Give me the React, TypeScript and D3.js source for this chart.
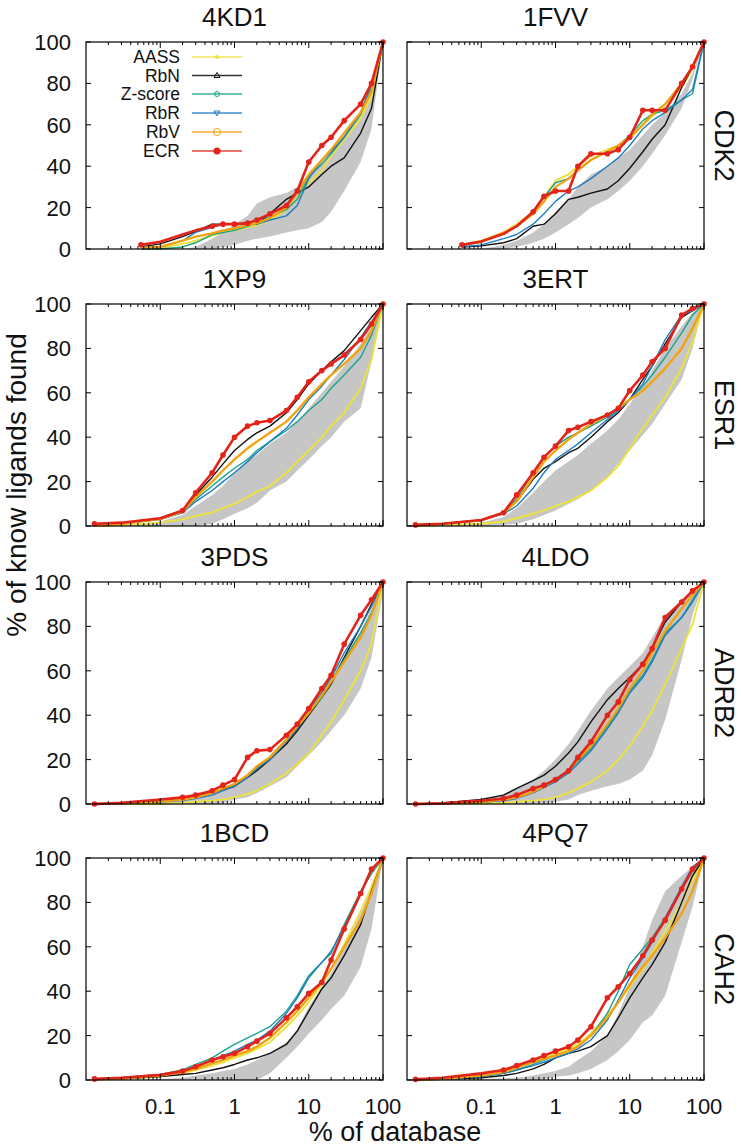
import React, { useEffect } from "react";
import * as d3 from "d3";

const W = 741;
const H = 1148;

const methods = ["AASS", "RbN", "Z-score", "RbR", "RbV", "ECR"];
const methodColors = ["#ebe23c", "#111111", "#1aa38e", "#1f7cc0", "#f2a20c", "#e3241b"];
const methodWidths = [1.9, 1.4, 1.4, 1.4, 2.3, 2.6];
const targets = ["CDK2", "ESR1", "ADRB2", "CAH2"];
const structures = [["4KD1", "1FVV"], ["1XP9", "3ERT"], ["3PDS", "4LDO"], ["1BCD", "4PQ7"]];
const xTicks = [0.1, 1, 10, 100];
const xTickLabels = ["0.1", "1", "10", "100"];
const yTicks = [0, 20, 40, 60, 80, 100];

// % of database sample positions
const xCDK2 = [0.055, 0.1, 0.2, 0.3, 0.5, 0.7, 1, 1.5, 2, 3, 5, 7, 10, 15, 20, 30, 50, 70, 100];
const xOther = [0.013, 0.03, 0.1, 0.2, 0.3, 0.5, 0.7, 1, 1.5, 2, 3, 5, 7, 10, 15, 20, 30, 50, 70, 100];

// series order: AASS, RbN, Z-score, RbR, RbV, ECR
const s4KD1 = [
  [0, 0.5, 2.5, 4, 6.5, 8, 9, 10.5, 11.5, 14, 19, 24, 32, 38, 45, 53, 63, 74, 100],
  [1, 2.5, 6, 8.5, 12, 12, 12, 12, 12, 17, 24, 27, 30, 36, 40, 44, 56, 68, 100],
  [0, 0, 1, 3, 7, 8, 9, 11, 12.5, 15.5, 19, 24, 35, 41, 46, 54, 65, 78, 100],
  [1, 1, 4, 8, 10.5, 12, 12, 12, 12, 14, 16, 21, 34, 43, 47, 54, 66, 80, 100],
  [0.5, 1, 4, 6, 7.5, 9, 10, 11.5, 12.5, 15, 20, 27, 36, 43, 48, 56, 66, 76, 100],
  [2, 3.5, 7, 9, 11, 12, 12, 12.5, 14, 17, 21, 28, 42, 50, 54, 62, 70, 80, 100],
];
const hi4KD1 = [0, 0, 0, 1, 5, 8, 12, 16, 22, 25, 27, 30, 36, 43, 48, 55, 66, 78, 100];
const lo4KD1 = [0, 0, 0, 0, 0, 1, 2, 4, 5, 6, 8, 9, 10, 13, 18, 28, 42, 58, 100];

const s1FVV = [
  [2, 4, 8, 12, 18, 25, 33, 36, 40, 45, 48, 50, 53, 60, 64, 70, 78, 87, 100],
  [1, 1.5, 3, 5, 11, 12, 17, 24, 25, 27, 29, 33, 39, 47, 53, 60, 78, 88, 100],
  [1.5, 3.5, 8, 11, 18, 25, 32, 34, 38, 43, 47, 50, 55, 62, 65, 67, 72, 75, 100],
  [1, 2, 5, 7, 12, 17, 23, 28, 30, 34, 40, 44, 50, 58, 62, 66, 72, 77, 100],
  [2, 3.5, 8, 11, 17, 23, 30, 34, 38, 43, 47, 50, 54, 60, 65, 70, 80, 88, 100],
  [2, 3.6, 7.3, 11, 18, 25.5, 28, 28, 40, 46, 46, 48, 54, 67, 67, 67, 80, 88, 100],
];
const hi1FVV = [0, 0, 2, 4, 8, 12, 18, 24, 30, 36, 40, 44, 48, 55, 60, 66, 75, 85, 100];
const lo1FVV = [0, 0, 0, 1, 3, 5, 8, 12, 15, 20, 24, 28, 33, 40, 46, 55, 68, 82, 100];

const s1XP9 = [
  [0, 0.2, 1.5, 3, 4.5, 6, 8, 10, 13, 15.5, 18, 24, 29, 34, 40, 45, 51, 62, 75, 100],
  [0.5, 1.2, 3.5, 7, 14, 22, 28, 34, 39, 42, 45, 51, 57, 64, 70, 74, 79, 88, 94, 100],
  [0.3, 1, 3, 6, 12, 18, 22, 26, 30, 34, 38, 43, 47, 52, 57, 62, 68, 76, 86, 100],
  [0.3, 1, 3, 6, 11, 16, 20, 24, 29, 33, 38, 44, 50, 57, 63, 68, 75, 85, 92, 100],
  [0.3, 1, 3.2, 6.5, 13, 20, 25, 30, 35, 38, 42, 47, 52, 58, 64, 68, 73, 80, 88, 100],
  [1, 1.5, 3.5, 7, 15, 24, 32, 40, 45, 46.5, 47.5, 52, 58, 65, 70, 73, 77, 84, 91, 100],
];
const hi1XP9 = [0, 0.5, 2, 5, 9, 14, 18, 24, 29, 32, 37, 42, 47, 53, 60, 65, 72, 82, 90, 100];
const lo1XP9 = [0, 0, 0, 0, 0, 1, 3, 5.5, 8, 10.5, 16, 20, 25, 30, 36, 40, 47, 53, 74, 100];

const s3ERT = [
  [0, 0.3, 1, 2, 3.5, 5.5, 7, 9, 11, 13, 16, 22, 27, 35, 44, 50, 58, 71, 83, 100],
  [0.5, 1, 2.5, 6, 11, 21, 26, 29, 33, 35, 40, 47, 51, 57, 66, 72, 82, 94, 97, 100],
  [0.5, 1, 2.7, 6, 12, 24, 31, 36, 40, 42, 45, 49, 52, 57, 63, 68, 76, 87, 95, 100],
  [0.5, 1, 2.5, 5.5, 9, 17, 24, 30, 34, 37, 42, 48, 52, 57, 64, 72, 84, 95, 97, 100],
  [0.5, 1, 2.5, 6, 11, 22, 29, 34, 39, 42, 46, 50, 53, 57, 61, 65, 71, 80, 89, 100],
  [0.5, 1, 2.7, 6, 14, 24, 31, 36, 43, 44.5, 47, 50, 53, 61, 68, 74, 80, 95, 98, 100],
];
const hi3ERT = [0, 0.3, 1.5, 4, 8, 15, 20, 25, 29, 32, 37, 43, 48, 55, 63, 70, 80, 90, 96, 100];
const lo3ERT = [0, 0, 0, 0.5, 1, 3, 5, 7, 10, 12, 16, 22, 28, 34, 41, 46, 55, 66, 80, 100];

const s3PDS = [
  [0, 0, 0, 0.5, 1, 1.5, 2, 3, 4.5, 6, 9, 14, 18, 23, 31, 37, 47, 60, 72, 100],
  [0, 0.5, 1.5, 2.5, 3.5, 5, 6.5, 8, 12, 15, 20, 27, 33, 40, 48, 54, 66, 80, 90, 100],
  [0, 0.2, 1, 2, 3, 5, 7, 9, 13, 16, 21, 29, 34, 41, 48, 55, 65, 77, 86, 100],
  [0, 0.2, 1, 1.5, 2.5, 4, 6, 8, 12, 16, 20, 28, 34, 42, 50, 57, 68, 80, 89, 100],
  [0, 0.3, 1.2, 2, 3, 5, 7, 9, 13, 17, 21, 29, 35, 41, 49, 55, 64, 75, 85, 100],
  [0, 0.5, 2, 3, 4, 6, 8.5, 11, 21, 24, 24.5, 31, 36, 43, 52, 58, 72, 85, 92, 100],
];
const hi3PDS = [0, 0, 1, 2, 3, 5, 7, 9, 12, 16, 22, 30, 36, 44, 52, 58, 66, 78, 88, 100];
const lo3PDS = [0, 0, 0, 0, 0, 0, 0.5, 2, 3, 5, 8, 12, 17, 22, 28, 33, 40, 52, 66, 96];

const s4LDO = [
  [0, 0, 0.2, 0.5, 1, 1.5, 2, 3, 5, 7, 10, 15, 20, 26, 35, 42, 54, 70, 81, 100],
  [0, 0.5, 2, 4, 7, 10.5, 13, 17, 23, 28, 37, 47, 52, 57, 63, 70, 82, 91, 96, 100],
  [0, 0.2, 0.8, 1.5, 3, 5.5, 8, 11, 15, 19, 25, 35, 42, 51, 58, 65, 77, 84, 92, 100],
  [0, 0.2, 0.8, 1.5, 2.5, 5, 7.5, 10, 14, 18, 24, 34, 41, 50, 57, 64, 76, 84, 91, 100],
  [0, 0.2, 1, 2, 3, 5.5, 8, 11, 15, 20, 26, 36, 43, 52, 60, 68, 78, 88, 94, 100],
  [0, 0.3, 1.5, 2.5, 4, 7, 8.5, 11, 15, 21, 28, 40, 46, 56, 63, 70, 84, 91, 96, 100],
];
const hi4LDO = [0, 0.5, 2, 4.5, 7, 11, 15, 20, 27, 33, 42, 52, 57, 62, 68, 75, 85, 92, 96, 100];
const lo4LDO = [0, 0, 0, 0, 0, 0, 0.5, 1, 2, 4, 6, 8, 9, 11, 15, 22, 38, 65, 85, 100];

const s1BCD = [
  [0.3, 0.5, 1.5, 3, 4.5, 6.5, 8, 10, 12, 14, 17, 24, 29, 35, 43, 50, 61, 76, 87, 100],
  [0.3, 0.5, 1.5, 2.5, 3, 4.5, 5.5, 7, 9, 10, 12, 16, 22, 31, 41, 46, 56, 70, 85, 100],
  [0.5, 1, 2.5, 4.5, 7, 10, 13, 16, 19, 21, 24, 31, 38, 47, 53, 57, 70, 85, 93, 100],
  [0.5, 1, 2.3, 4, 6, 9, 11, 13, 16, 18, 22, 30, 37, 46, 53, 58, 69, 84, 95, 100],
  [0.3, 0.6, 2, 3.5, 5, 7.5, 9, 11, 13, 15, 19, 26, 31, 37, 44, 50, 60, 72, 84, 100],
  [0.5, 1, 2.3, 4, 6, 9, 10.5, 12, 15, 17.5, 21, 28, 33, 39, 44, 54, 68, 84, 95, 100],
];
const hi1BCD = [0, 0, 0.5, 1, 2, 3, 4, 5, 7, 9, 12, 17, 23, 33, 42, 48, 60, 75, 88, 100];
const lo1BCD = [0, 0, 0, 0, 0, 0, 0, 0, 0, 0, 3, 10, 15, 21, 27, 32, 38, 51, 68, 100];

const s4PQ7 = [
  [0, 0.5, 2, 4, 6, 8, 10, 12, 14, 16, 21, 29, 35, 42, 50, 57, 67, 80, 90, 100],
  [0, 0.3, 1, 2, 3, 5, 7, 10, 12, 13, 15, 20, 28, 37, 46, 52, 62, 80, 92, 100],
  [0, 0.5, 1.5, 3, 4.5, 7, 9, 11, 13, 15, 20, 30, 40, 52, 59, 64, 73, 86, 94, 100],
  [0, 0.5, 1.5, 3, 4.5, 6.5, 8, 10, 12, 14, 18, 27, 36, 46, 55, 62, 73, 87, 96, 100],
  [0, 0.5, 2, 3.5, 5.5, 8, 9.5, 11, 13, 15, 20, 28, 35, 43, 51, 56, 64, 75, 85, 100],
  [0.3, 1, 3, 4.5, 6.5, 9, 11, 13, 15, 18, 24, 37, 42, 48, 56, 63, 72, 86, 95, 100],
];
const hi4PQ7 = [0, 0, 0.5, 0.8, 1, 2, 3, 4, 6, 9, 13, 20, 30, 42, 60, 72, 85, 92, 96, 100];
const lo4PQ7 = [0, 0, 0, 0, 0, 0, 0.5, 1.5, 2, 3, 5, 9, 13, 18, 26, 29, 38, 62, 78, 100];

const panelSeries = [
  [s4KD1, s1FVV],
  [s1XP9, s3ERT],
  [s3PDS, s4LDO],
  [s1BCD, s4PQ7],
];
const panelHi = [[hi4KD1, hi1FVV], [hi1XP9, hi3ERT], [hi3PDS, hi4LDO], [hi1BCD, hi4PQ7]];
const panelLo = [[lo4KD1, lo1FVV], [lo1XP9, lo3ERT], [lo3PDS, lo4LDO], [lo1BCD, lo4PQ7]];

// layout
const colX = [86, 407];
const panelW = 297;
const rowY = [42, 304, 582, 858];
const rowH = [207, 222, 222, 222];
const FONT = "'Liberation Sans', Arial, Helvetica, sans-serif";

function Marker({ i, x, y, color }: { i: number; x: number; y: number; color: string }) {
  if (i === 0) return <circle cx={x} cy={y} r={2} fill={color} />;
  if (i === 1)
    return <path d={`M${x},${y - 3}L${x + 3},${y + 2}L${x - 3},${y + 2}Z`} fill="none" stroke={color} strokeWidth={1} />;
  if (i === 2) return <circle cx={x} cy={y} r={2.5} fill="none" stroke={color} strokeWidth={1} />;
  if (i === 3)
    return <path d={`M${x},${y + 3}L${x + 3},${y - 2}L${x - 3},${y - 2}Z`} fill="none" stroke={color} strokeWidth={1} />;
  if (i === 4) return <circle cx={x} cy={y} r={3.5} fill="none" stroke={color} strokeWidth={1} />;
  return <circle cx={x} cy={y} r={3.5} fill={color} />;
}

function Panel({ row, col }: { row: number; col: number }) {
  const x0 = colX[col];
  const y0 = rowY[row];
  const h = rowH[row];
  const xs = row === 0 ? xCDK2 : xOther;
  const series = panelSeries[row][col];
  const hi = panelHi[row][col];
  const lo = panelLo[row][col];
  const xScale = d3.scaleLog().domain([0.01, 100]).range([0, panelW]);
  const yScale = d3.scaleLinear().domain([0, 100]).range([h, 0]);
  const dotFrom = row === 0 ? 0.5 : 0.2;

  const area = d3
    .area<number>()
    .x((_, i) => xScale(xs[i]))
    .y0((_, i) => yScale(lo[i]))
    .y1((d) => yScale(d));
  const line = d3
    .line<number>()
    .x((_, i) => xScale(xs[i]))
    .y((d) => yScale(d));

  const minor: number[] = [];
  [0.01, 0.1, 1, 10].forEach((d) => {
    for (let k = 2; k <= 9; k++) minor.push(d * k);
  });

  return (
    <g transform={`translate(${x0},${y0})`}>
      <path d={area(hi) || ""} fill="#c6c6c6" stroke="none" />
      {series.map((vals, i) => (
        <path
          key={i}
          d={line(vals) || ""}
          fill="none"
          stroke={methodColors[i]}
          strokeWidth={methodWidths[i]}
          strokeLinejoin="round"
        />
      ))}
      {series[5].map((v, j) =>
        j === 0 || xs[j] >= dotFrom ? (
          <circle key={j} cx={xScale(xs[j])} cy={yScale(v)} r={2.8} fill={methodColors[5]} />
        ) : null
      )}
      <rect x={0} y={0} width={panelW} height={h} fill="none" stroke="#000" strokeWidth={1.2} />
      {yTicks.map((t) => (
        <g key={t}>
          <line x1={0} x2={5} y1={yScale(t)} y2={yScale(t)} stroke="#000" />
          <line x1={panelW - 5} x2={panelW} y1={yScale(t)} y2={yScale(t)} stroke="#000" />
        </g>
      ))}
      {xTicks.map((t) => (
        <g key={t}>
          <line x1={xScale(t)} x2={xScale(t)} y1={h} y2={h - 6} stroke="#000" />
          <line x1={xScale(t)} x2={xScale(t)} y1={0} y2={6} stroke="#000" />
        </g>
      ))}
      {minor.map((t, k) => (
        <g key={k}>
          <line x1={xScale(t)} x2={xScale(t)} y1={h} y2={h - 3} stroke="#000" />
          <line x1={xScale(t)} x2={xScale(t)} y1={0} y2={3} stroke="#000" />
        </g>
      ))}
      {col === 0 &&
        yTicks.map((t) => (
          <text
            key={t}
            x={-15}
            y={yScale(t)}
            dy="0.36em"
            textAnchor="end"
            fontSize={22}
            fontFamily={FONT}
            fill="#111"
          >
            {t}
          </text>
        ))}
      {row === 3 &&
        xTicks.map((t, k) => (
          <text
            key={t}
            x={xScale(t)}
            y={h + 34}
            textAnchor="middle"
            fontSize={22}
            fontFamily={FONT}
            fill="#111"
          >
            {xTickLabels[k]}
          </text>
        ))}
      <text x={panelW / 2} y={-16} textAnchor="middle" fontSize={26} fontFamily={FONT} fill="#111">
        {structures[row][col]}
      </text>
      {col === 1 && (
        <text
          transform={`translate(${panelW + 11},${h / 2}) rotate(90)`}
          textAnchor="middle"
          fontSize={27}
          fontFamily={FONT}
          fill="#111"
        >
          {targets[row]}
        </text>
      )}
    </g>
  );
}

function Legend() {
  const ys = [57, 75.5, 94, 113, 132, 151];
  return (
    <g>
      {methods.map((m, i) => (
        <g key={m}>
          <text x={180} y={ys[i]} dy="0.36em" textAnchor="end" fontSize={17.5} fontFamily={FONT} fill="#111">
            {m}
          </text>
          <line x1={192} x2={242} y1={ys[i]} y2={ys[i]} stroke={methodColors[i]} strokeWidth={1.3} opacity={0.85} />
          <Marker i={i} x={217} y={ys[i]} color={methodColors[i]} />
        </g>
      ))}
    </g>
  );
}

export default function App() {
  useEffect(() => {
    document.body.style.margin = "0";
  }, []);
  return (
    <svg width={W} height={H} style={{ display: "block", background: "#fff" }} xmlns="http://www.w3.org/2000/svg">
      <rect x={0} y={0} width={W} height={H} fill="#fff" />
      {[0, 1, 2, 3].map((r) => [0, 1].map((c) => <Panel key={`${r}-${c}`} row={r} col={c} />))}
      <Legend />
      <text
        transform="translate(26,485) rotate(-90)"
        textAnchor="middle"
        fontSize={28}
        fontFamily={FONT}
        fill="#111"
      >
        % of know ligands found
      </text>
      <text x={395} y={1141} textAnchor="middle" fontSize={27} fontFamily={FONT} fill="#111">
        % of database
      </text>
    </svg>
  );
}
